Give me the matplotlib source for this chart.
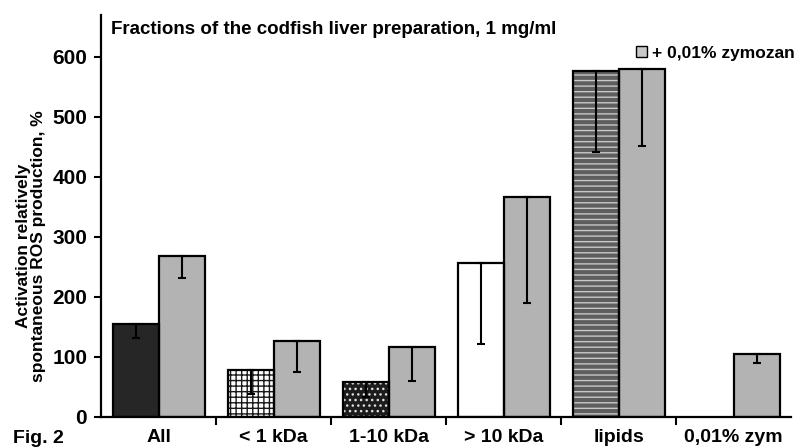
import numpy as np
import matplotlib

matplotlib.use("Agg")
import matplotlib.pyplot as plt
from matplotlib.patches import Patch

CATEGORIES = ["All", "< 1 kDa", "1-10 kDa", "> 10 kDa", "lipids", "0,01% zym"]
FRACTION_VALUES = [155, 78, 57, 256, 577, np.nan]
FRACTION_ERR = [24, 40, 24, 134, 136, 0]
ZYMOZAN_VALUES = [268, 127, 116, 367, 580, 105]
ZYMOZAN_ERR = [37, 52, 56, 177, 128, 16]
Y_TICKS = [0, 100, 200, 300, 400, 500, 600]

# face colour, hatch, hatch colour for each fraction bar
FRACTION_STYLE = [
    ("#262626", "", "#262626"),
    ("#ffffff", "+++", "#1a1a1a"),
    ("#1c1c1c", "...", "#e0e0e0"),
    ("#ffffff", "", "#ffffff"),
    ("#5e5e5e", "---", "#c8c8c8"),
    ("#ffffff", "", "#ffffff"),
]
GRAY = "#b3b3b3"
WIDTH = 0.4


def main():
    plt.rcParams.update({
        "font.family": ["Liberation Sans Narrow", "Liberation Sans", "DejaVu Sans"],
        "font.weight": "bold",
        "hatch.linewidth": 1.0,
    })
    fig = plt.figure(figsize=(7.96, 4.48), dpi=100)
    ax = fig.add_axes([0.127, 0.070, 0.867, 0.8965])

    x = np.arange(len(CATEGORIES))
    fx = x - WIDTH / 2
    zx = x + WIDTH / 2

    for xi, val, (face, hatch, hcol) in zip(fx, FRACTION_VALUES, FRACTION_STYLE):
        if np.isnan(val):
            continue
        ax.bar(xi, val, WIDTH, color=face, hatch=hatch, edgecolor=hcol, linewidth=0, zorder=2)
        ax.bar(xi, val, WIDTH, fill=False, edgecolor="black", linewidth=1.6, zorder=3)

    ax.bar(zx, ZYMOZAN_VALUES, WIDTH, color=GRAY, edgecolor="black", linewidth=1.6, zorder=2)

    fv = np.array(FRACTION_VALUES)
    ok = ~np.isnan(fv)
    ax.errorbar(fx[ok], fv[ok], yerr=[np.array(FRACTION_ERR)[ok], np.zeros(ok.sum())],
                fmt="none", ecolor="black", elinewidth=1.5, capsize=3, capthick=1.5, zorder=4)
    ax.errorbar(zx, ZYMOZAN_VALUES, yerr=[ZYMOZAN_ERR, np.zeros(len(zx))],
                fmt="none", ecolor="black", elinewidth=1.5, capsize=3, capthick=1.5, zorder=4)

    ax.set_xlim(-0.5, len(CATEGORIES) - 0.5)
    ax.set_ylim(0, 670)
    ax.set_yticks(Y_TICKS)
    ax.tick_params(axis="y", labelsize=15, length=5, width=1.5, pad=5)
    ax.set_xticks(x)
    ax.set_xticklabels(CATEGORIES)
    ax.set_xticks(x[:-1] + 0.5, minor=True)
    ax.tick_params(axis="x", which="major", length=0, labelsize=14, pad=9)
    ax.tick_params(axis="x", which="minor", length=6, width=1.5)

    for side in ("top", "right"):
        ax.spines[side].set_visible(False)
    for side in ("left", "bottom"):
        ax.spines[side].set_linewidth(1.6)

    ax.text(0.014, 0.965, "Fractions of the codfish liver preparation, 1 mg/ml",
            transform=ax.transAxes, ha="left", va="center", fontsize=13.5)

    handle = Patch(facecolor="#c8c8c8", edgecolor="black", linewidth=1.0)
    ax.legend([handle], ["+ 0,01% zymozan"], loc="center right", bbox_to_anchor=(1.005, 0.905),
              frameon=False, fontsize=12.5, handlelength=0.6, handleheight=0.6, handletextpad=0.3,
              borderpad=0, borderaxespad=0)

    fig.text(31 / 796, 1 - 246 / 448, "Activation relatively\nspontaneous ROS production, %",
             rotation=90, ha="center", va="center", multialignment="center", fontsize=12.5,
             linespacing=0.95)
    fig.text(13 / 796, 1 - 438 / 448, "Fig. 2", ha="left", va="center", fontsize=14)

    fig.savefig("out.png", dpi=100)
    plt.close(fig)


if __name__ == "__main__":
    main()
